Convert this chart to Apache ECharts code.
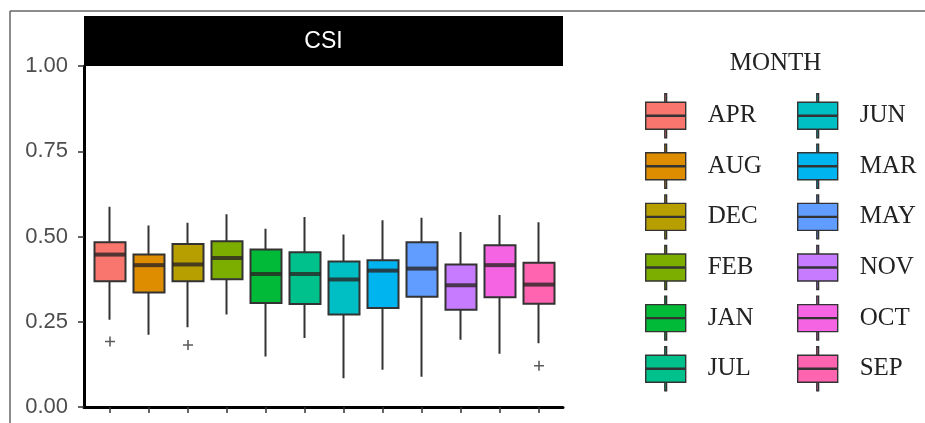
<!DOCTYPE html>
<html>
<head>
<meta charset="utf-8">
<script src="https://cdn.jsdelivr.net/npm/echarts@6/dist/echarts.min.js"></script>
<style>
  html, body { margin: 0; padding: 0; background: #fff; }
  #chart { width: 925px; height: 423px; }
</style>
</head>
<body>
<div id="chart"></div>
<script>
// ---- data ----
const months = ['APR','AUG','DEC','FEB','JAN','JUL','JUN','MAR','MAY','NOV','OCT','SEP'];
const colors = ['#F8766D','#DE8C00','#B79F00','#7CAE00','#00BA38','#00C08B','#00BFC4','#00B4F0','#619CFF','#C77CFF','#F564E3','#FF64B0'];
const whiskerLow  = [0.256,0.212,0.234,0.271,0.148,0.202,0.084,0.109,0.089,0.197,0.156,0.187];
const q1          = [0.369,0.336,0.369,0.375,0.305,0.302,0.271,0.290,0.323,0.285,0.322,0.303];
const medians     = [0.447,0.416,0.418,0.437,0.390,0.390,0.374,0.400,0.406,0.357,0.416,0.359];
const q3          = [0.483,0.447,0.478,0.486,0.462,0.454,0.427,0.430,0.483,0.418,0.474,0.423];
const whiskerHigh = [0.587,0.532,0.540,0.565,0.523,0.557,0.506,0.548,0.555,0.513,0.563,0.542];
const outliers = [['APR',0.192],['DEC',0.182],['SEP',0.121]];
const yTicks = [0, 0.25, 0.5, 0.75, 1];
const panelTitle = 'CSI';
const legendTitle = 'MONTH';

const boxIcon = 'path://M19.1,0 L20.9,0 L20.9,8.5 L19.1,8.5 Z M0,8.5 L40,8.5 L40,35.5 L0,35.5 Z M0,21.5 L40,21.5 L40,22.5 L0,22.5 Z M19.1,35.5 L20.9,35.5 L20.9,44 L19.1,44 Z';

const chart = echarts.init(document.getElementById('chart'), null, { renderer: 'canvas' });

const boxSeries = months.map((m, i) => ({
  name: m,
  type: 'candlestick',
  xAxisIndex: 1,
  yAxisIndex: 1,
  barWidth: 31,
  encode: { x: 0, y: [1, 2, 3, 4] },
  data: [[m, q1[i], q3[i], whiskerLow[i], whiskerHigh[i]]],
  itemStyle: {
    color: colors[i], color0: colors[i],
    borderColor: '#333', borderColor0: '#333',
    borderWidth: 2
  },
  z: 2
}));

function legendData(list) {
  return list.map(m => {
    const i = months.indexOf(m);
    return { name: m, icon: boxIcon, itemStyle: { color: colors[i], borderColor: '#333', borderWidth: 1.4 } };
  });
}
const legendCommon = {
  orient: 'vertical',
  top: 93,
  padding: 0,
  itemWidth: 40,
  itemHeight: 44,
  itemGap: 5.2,
  selectedMode: false,
  textStyle: { fontFamily: 'Liberation Serif', fontSize: 25, color: '#222', padding: [0, 0, 0, 17] }
};

const option = {
  animation: false,
  backgroundColor: '#fff',
  grid: [
    { left: 84, top: 66, width: 479, height: 341 },
    { left: 90.5, top: 66, width: 468, height: 341 }
  ],
  xAxis: [
    { type: 'value', gridIndex: 0, min: 0, max: 1,
      axisLine: { show: true, lineStyle: { color: '#000', width: 3 } },
      axisTick: { show: false }, axisLabel: { show: false }, splitLine: { show: false } },
    { type: 'category', gridIndex: 1, data: months, boundaryGap: true,
      axisLine: { show: false },
      axisTick: { show: true, alignWithLabel: true, length: 6, lineStyle: { color: '#333', width: 1.5 } },
      axisLabel: { show: false }, splitLine: { show: false } }
  ],
  yAxis: [
    { type: 'value', gridIndex: 0, min: 0, max: 1, interval: 0.25,
      axisLine: { show: true, lineStyle: { color: '#000', width: 3 } },
      axisTick: { show: true, length: 6, lineStyle: { color: '#333', width: 1.5 } },
      axisLabel: { show: true, margin: 16, color: '#4d4d4d', fontFamily: 'Liberation Sans', fontSize: 22,
        formatter: v => (yTicks.indexOf(v) >= 0 ? v.toFixed(2) : '') },
      splitLine: { show: false } },
    { type: 'value', gridIndex: 1, min: 0, max: 1, show: false, splitLine: { show: false } }
  ],
  legend: [
    Object.assign({}, legendCommon, { left: 645, data: legendData(months.slice(0, 6)) }),
    Object.assign({}, legendCommon, { left: 797, data: legendData(months.slice(6)) })
  ],
  graphic: [
    { type: 'line', shape: { x1: 10, y1: 11, x2: 925, y2: 11 }, style: { stroke: '#666', lineWidth: 1.5 }, z: 10 },
    { type: 'line', shape: { x1: 10, y1: 11, x2: 10, y2: 423 }, style: { stroke: '#666', lineWidth: 1.5 }, z: 10 },
    { type: 'rect', shape: { x: 84, y: 16, width: 479, height: 50 }, style: { fill: '#000' }, z: 10 },
    { type: 'text', x: 323.5, y: 42, z: 11,
      style: { text: panelTitle, fill: '#fff', font: '23px "Liberation Sans"', align: 'center', verticalAlign: 'middle' } },
    { type: 'text', x: 775.5, y: 63, z: 11,
      style: { text: legendTitle, fill: '#222', font: '25px "Liberation Serif"', align: 'center', verticalAlign: 'middle' } }
  ],
  series: boxSeries.concat([
    { name: 'median', type: 'scatter', xAxisIndex: 1, yAxisIndex: 1,
      symbol: 'rect', symbolSize: [31, 4], itemStyle: { color: '#2b2424' },
      data: months.map((m, i) => [m, medians[i]]), z: 5, silent: true },
    { name: 'outlier', type: 'scatter', xAxisIndex: 1, yAxisIndex: 1,
      symbol: 'path://M4.2,0 L5.8,0 L5.8,4.2 L10,4.2 L10,5.8 L5.8,5.8 L5.8,10 L4.2,10 L4.2,5.8 L0,5.8 L0,4.2 L4.2,4.2 Z',
      symbolSize: 10, itemStyle: { color: '#333' },
      data: outliers, z: 5, silent: true }
  ])
};

chart.setOption(option);
</script>
</body>
</html>
